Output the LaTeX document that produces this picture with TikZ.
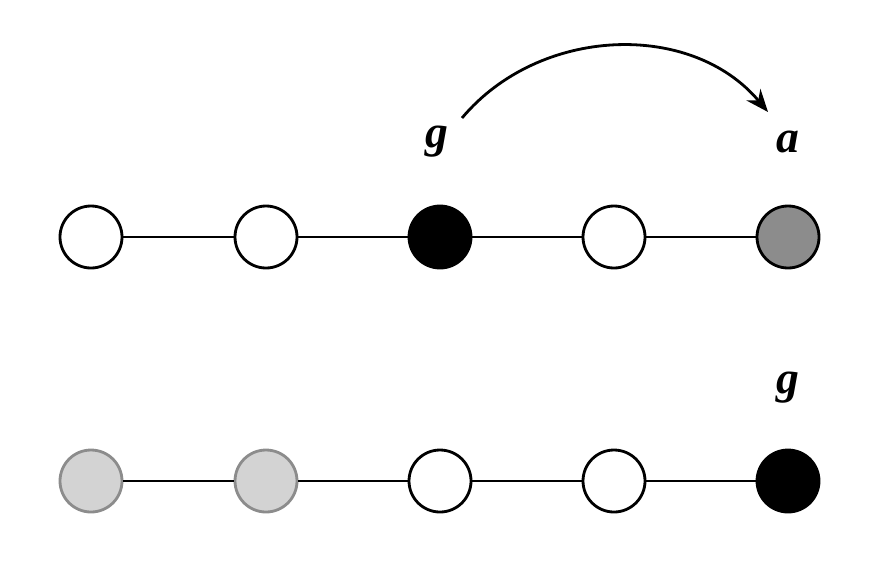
\documentclass[tikz,border=0pt]{standalone}
\usepackage{fontspec}
\setmainfont{Liberation Serif}
\usetikzlibrary{positioning, arrows.meta}
\definecolor{midgray}{HTML}{8C8C8C}
\definecolor{lightgray}{HTML}{D3D3D3}
\tikzset{%
  every node/.style={font=\fontsize{26}{30}\selectfont\bfseries\itshape},
  vertex/.style={circle, draw, line width=1.6pt, minimum size=1.24cm, inner sep=0pt, fill=white},
  visited/.style={vertex, fill=lightgray, draw=midgray},
  target/.style={vertex, fill=midgray},
  current/.style={vertex, fill=black},
  link/.style={line width=1.6pt}
}
\begin{document}
\begin{tikzpicture}
  \useasboundingbox (0,0) rectangle (17.88,11.36);
  % upper row
  \node[vertex]  (u1) at (1.82,6.62) {};
  \node[vertex]  (u2) at (5.32,6.62) {};
  \node[current] (u3) at (8.80,6.62) {};
  \node[vertex]  (u4) at (12.28,6.62) {};
  \node[target]  (u5) at (15.76,6.62) {};
  \draw[link] (u1) -- (u2) (u2) -- (u3) (u3) -- (u4) (u4) -- (u5);
  \node (gu) at (8.74,8.52) {g};
  \node (au) at (15.76,8.52) {a};
  \coordinate (s) at (9.24,9.0);
  \coordinate (e) at (15.36,9.12);
  \draw[line width=1.6pt, -{Stealth[length=0.45cm, width=0.36cm]}] (s) to[out=50, in=130] (e);

  % lower row
  \node[visited] (l1) at (1.82,1.74) {};
  \node[visited] (l2) at (5.32,1.74) {};
  \node[vertex]  (l3) at (8.80,1.74) {};
  \node[vertex]  (l4) at (12.28,1.74) {};
  \node[current] (l5) at (15.76,1.74) {};
  \draw[link] (l1) -- (l2) (l2) -- (l3) (l3) -- (l4) (l4) -- (l5);
  \node (gl) at (15.76,3.6) {g};
\end{tikzpicture}
\end{document}
